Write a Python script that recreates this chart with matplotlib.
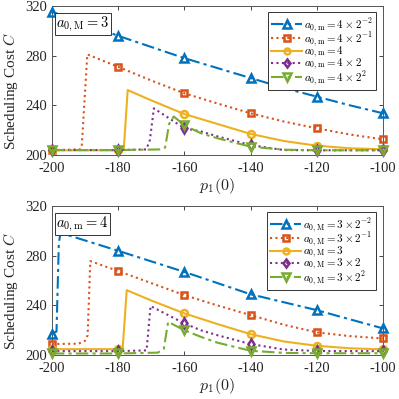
import numpy as np
import matplotlib
matplotlib.use("Agg")
import matplotlib.pyplot as plt

plt.rcParams['font.family'] = ['Liberation Serif', 'DejaVu Serif']
plt.rcParams['mathtext.fontset'] = 'cm'
plt.rcParams['axes.unicode_minus'] = False

# ---------------- data (top panel: a_{0,M}=3) ----------------
top_blue_x = [-200, -190, -180, -170, -160, -150, -140, -130, -120, -110, -100]
top_blue_y = [315.4, 305.5, 296, 287, 278, 270, 262, 254, 247, 240, 233.6]
top_orange_x = [-200, -191.5, -191, -189.3, -180, -170, -160, -150, -140, -130, -120, -110, -100]
top_orange_y = [204, 204.5, 206, 281, 271, 260, 249.7, 241.5, 233.6, 227, 221.5, 216.5, 212.6]
top_yellow_x = [-200, -180, -178.3, -177.1, -170, -160, -150, -140, -130, -120, -110, -100]
top_yellow_y = [203.8, 203.8, 204.5, 252.3, 244, 233, 225, 217, 211.3, 207.5, 205.4, 204.6]
top_purple_x = [-200, -180, -171.5, -170.4, -169.2, -160, -155, -150, -140, -130, -120, -100]
top_purple_y = [204, 204, 204.5, 212, 237.6, 221.5, 219, 215, 208, 204, 203.8, 203.8]
top_green_x = [-200, -180, -167, -165.8, -164.6, -163.2, -160, -155, -150, -140, -130, -120, -100]
top_green_y = [204, 204, 204.5, 206, 225, 231, 224, 217.5, 213.5, 206.7, 204.3, 203.8, 203.8]

# ---------------- data (bottom panel: a_{0,m}=4) ----------------
bot_blue_x = [-200, -198.6, -197.9, -197.4, -180, -160, -140, -120, -113, -100]
bot_blue_y = [217.4, 219, 290, 298.5, 284, 267, 249, 236.2, 231, 221.5]
bot_orange_x = [-200, -192, -190, -189.2, -188.4, -180, -170, -160, -150, -140, -130, -120, -110, -100]
bot_orange_y = [208.9, 209.2, 211.5, 216, 275.7, 267.7, 258, 248.3, 240, 232.2, 224.5, 218.3, 215.3, 213.4]
bot_yellow_x = [-200, -180, -178.6, -177.4, -170, -160, -150, -140, -130, -120, -110, -100]
bot_yellow_y = [204.8, 204.8, 206.2, 252.3, 244, 233.6, 225, 216.9, 211, 207.5, 205.5, 204.6]
bot_purple_x = [-200, -180, -171.4, -170.2, -160, -155, -150, -140, -130, -120, -100]
bot_purple_y = [203.2, 203.2, 203.8, 239.5, 225.5, 220, 216, 208.9, 204.5, 203.3, 203.2]
bot_green_x = [-200, -180, -168, -166.2, -164.9, -160, -155, -150, -140, -130, -120, -100]
bot_green_y = [201.3, 201.3, 202, 205, 226.8, 220, 214.7, 210, 203.5, 201.8, 201.5, 201.5]

marker_x = [-200, -180, -160, -140, -120, -100]
x_ticks = [-200, -180, -160, -140, -120, -100]
y_ticks = [200, 240, 280, 320]

top_labels = [r'$a_{0,\mathrm{m}} = 4\times 2^{-2}$', r'$a_{0,\mathrm{m}} = 4\times 2^{-1}$',
              r'$a_{0,\mathrm{m}} = 4$', r'$a_{0,\mathrm{m}} = 4\times 2$', r'$a_{0,\mathrm{m}} = 4\times 2^{2}$']
bot_labels = [r'$a_{0,\mathrm{M}} = 3\times 2^{-2}$', r'$a_{0,\mathrm{M}} = 3\times 2^{-1}$',
              r'$a_{0,\mathrm{M}} = 3$', r'$a_{0,\mathrm{M}} = 3\times 2$', r'$a_{0,\mathrm{M}} = 3\times 2^{2}$']
top_box = r'$a_{0,\mathrm{M}} = 3$'
bot_box = r'$a_{0,\mathrm{m}} = 4$'

colors = ['#0072BD', '#D95319', '#EDB120', '#7E2F8E', '#77AC30']
styles = [(0, (6, 2, 1.5, 2)), (0, (1, 1.6)), '-', (0, (1, 1.6)), (0, (6, 2, 1.5, 2))]
markers = ['^', 's', 'o', 'd', 'v']

fig = plt.figure(figsize=(3.99, 3.99), dpi=100)
ax1 = fig.add_axes([0.130, 0.6115, 0.830, 0.3735])
ax2 = fig.add_axes([0.130, 0.110, 0.830, 0.3735])

panels = [
    (ax1, [(top_blue_x, top_blue_y), (top_orange_x, top_orange_y), (top_yellow_x, top_yellow_y),
           (top_purple_x, top_purple_y), (top_green_x, top_green_y)], top_labels, top_box),
    (ax2, [(bot_blue_x, bot_blue_y), (bot_orange_x, bot_orange_y), (bot_yellow_x, bot_yellow_y),
           (bot_purple_x, bot_purple_y), (bot_green_x, bot_green_y)], bot_labels, bot_box),
]

for ax, series, labels, boxtxt in panels:
    for (xs, ys), c, ls, mk, lab in zip(series, colors, styles, markers, labels):
        idx = [i for i, v in enumerate(xs) if v in marker_x]
        ax.plot(xs, ys, color=c, linestyle=ls, linewidth=1.5, marker=mk, markevery=idx,
                markersize=6 if mk in ('^', 'v') else 5,
                markerfacecolor='none', markeredgecolor=c,
                markeredgewidth=1.8, label=lab, clip_on=False, zorder=3)
    ax.set_xlim(-200, -100)
    ax.set_ylim(200, 320)
    ax.set_xticks(x_ticks)
    ax.set_yticks(y_ticks)
    ax.tick_params(direction='in', top=True, right=True, length=3, width=0.6,
                   labelsize=10.5, colors='#262626')
    ax.tick_params(axis='x', pad=5)
    ax.tick_params(axis='y', pad=3.5)
    for sp in ax.spines.values():
        sp.set_color('#555555')
        sp.set_linewidth(0.7)
    ax.set_ylabel(r'Scheduling Cost $C$', fontsize=11, color='#262626')
    ax.yaxis.set_label_coords(-0.097, 0.43)
    ax.set_xlabel(r'$p_1(0)$', fontsize=11.5, color='#262626', labelpad=1)
    leg = ax.legend(loc='upper right', bbox_to_anchor=(0.978, 0.958), borderaxespad=0,
                    fontsize=8, handlelength=2.8, numpoints=1, fancybox=False,
                    framealpha=1, edgecolor='#333333', borderpad=0.3, labelspacing=-0.3,
                    handletextpad=0.15, markerscale=0.85)
    leg.get_frame().set_linewidth(0.7)
    leg.set_zorder(5)
    ax.text(0.0136, 0.943, boxtxt, transform=ax.transAxes, fontsize=10.5, va='top', ha='left',
            zorder=6,
            bbox=dict(boxstyle='square,pad=0.12', facecolor='white', edgecolor='#333333', linewidth=0.7))

fig.savefig('out.png', dpi=100)
